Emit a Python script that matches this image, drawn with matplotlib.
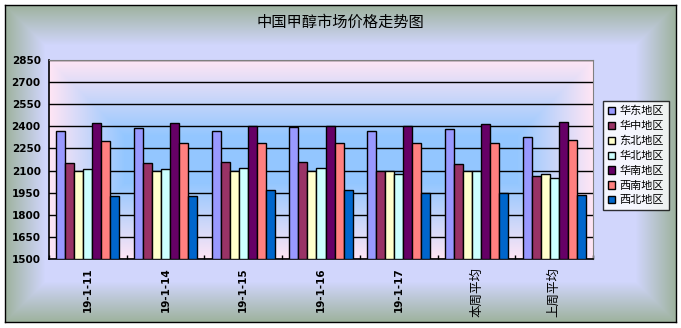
import numpy as np
import matplotlib.pyplot as plt

plt.rcParams['font.family'] = ['Noto Sans CJK SC', 'DejaVu Sans']

# 数据
categories = ["19-1-11", "19-1-14", "19-1-15", "19-1-16", "19-1-17", "本周平均", "上周平均"]
series_names = ["华东地区", "华中地区", "东北地区", "华北地区", "华南地区", "西南地区", "西北地区"]
huadong = [2370, 2390, 2365, 2395, 2370, 2380, 2326]
huazhong = [2150, 2150, 2155, 2155, 2100, 2142, 2061]
dongbei = [2100, 2100, 2100, 2100, 2100, 2100, 2075]
huabei = [2110, 2110, 2115, 2115, 2075, 2100, 2047]
huanan = [2420, 2420, 2405, 2400, 2400, 2414, 2427]
xinan = [2300, 2285, 2285, 2285, 2285, 2285, 2305]
xibei = [1930, 1930, 1970, 1970, 1950, 1950, 1932]
series = [huadong, huazhong, dongbei, huabei, huanan, xinan, xibei]
colors = ["#9999FF", "#993366", "#FFFFCC", "#CCFFFF", "#660066", "#FF8080", "#0066CC"]
y_ticks = [1500, 1650, 1800, 1950, 2100, 2250, 2400, 2550, 2700, 2850]

W, H = 681, 328
fig = plt.figure(figsize=(W / 100, H / 100), dpi=100)
fig.patch.set_facecolor("white")


def grad(w, h, edge, center, width):
    xx, yy = np.meshgrid(np.arange(w), np.arange(h))
    d = np.minimum(np.minimum(xx, w - 1 - xx), np.minimum(yy, h - 1 - yy))
    t = np.clip(d / width, 0, 1)[..., None]
    e = np.array(edge)[None, None, :]
    c = np.array(center)[None, None, :]
    return e * (1 - t) + c * t


# 图表区背景
bx0, by0, bx1, by1 = 5, 5, 676, 322
bg = fig.add_axes([bx0 / W, 1 - by1 / H, (bx1 - bx0) / W, (by1 - by0) / H])
bg.imshow(grad(bx1 - bx0, by1 - by0, (0.62, 0.70, 0.62), (0.82, 0.84, 0.99), 40),
          aspect="auto", extent=[0, 1, 0, 1])
bg.set_xticks([])
bg.set_yticks([])
for s in bg.spines.values():
    s.set_color("black")
    s.set_linewidth(1)

# 绘图区
px0, py0, px1, py1 = 49, 60, 593, 259
ax = fig.add_axes([px0 / W, 1 - py1 / H, (px1 - px0) / W, (py1 - py0) / H])
n = len(categories)
ax.imshow(grad(px1 - px0, py1 - py0, (1.0, 0.90, 0.96), (0.58, 0.78, 1.0), 75),
          aspect="auto", extent=[-0.5, n - 0.5, 1500, 2850], zorder=0)

bw = 0.116
x = np.arange(n)
for i, (vals, col, name) in enumerate(zip(series, colors, series_names)):
    ax.bar(x + (i - 3) * bw, [v - 1500 for v in vals], bw, bottom=1500, color=col,
           edgecolor="black", linewidth=1, label=name, zorder=3)

ax.set_xlim(-0.5, n - 0.5)
ax.set_ylim(1500, 2850)
ax.set_yticks(y_ticks)
ax.set_yticklabels([str(v) for v in y_ticks], fontsize=7.5, fontweight="bold",
                   family="DejaVu Sans")
ax.yaxis.grid(True, color="black", linewidth=1, zorder=1)
ax.set_axisbelow(True)
ax.tick_params(axis="y", length=0, pad=6)
ax.set_xticks(x)
ax.set_xticklabels(categories, rotation=90, va="top")
for lab in ax.get_xticklabels():
    if lab.get_text().startswith("19"):
        lab.set_fontsize(7.5)
        lab.set_fontweight("bold")
        lab.set_family("DejaVu Sans")
    else:
        lab.set_fontsize(9)
ax.tick_params(axis="x", length=0, pad=6)
ax.set_xticks(np.arange(n + 1) - 0.5, minor=True)
ax.tick_params(axis="x", which="minor", length=3, direction="in", width=1)
for s in ["top", "right"]:
    ax.spines[s].set_color("#808080")
for s in ["left", "bottom"]:
    ax.spines[s].set_color("black")
    ax.spines[s].set_linewidth(1.2)

fig.text(340 / W, 1 - 22 / H, "中国甲醇市场价格走势图", ha="center", va="center", fontsize=11)

leg = ax.legend(loc="upper left", bbox_to_anchor=(603 / W, 1 - 101 / H),
                bbox_transform=fig.transFigure, fontsize=8, frameon=True,
                fancybox=False, handlelength=0.65, handleheight=0.65, handletextpad=0.35,
                labelspacing=0.42, borderpad=0.45, borderaxespad=0)
leg.get_frame().set_edgecolor("black")
leg.get_frame().set_facecolor("white")
leg.get_frame().set_linewidth(1)

fig.savefig("out.png", dpi=100)
